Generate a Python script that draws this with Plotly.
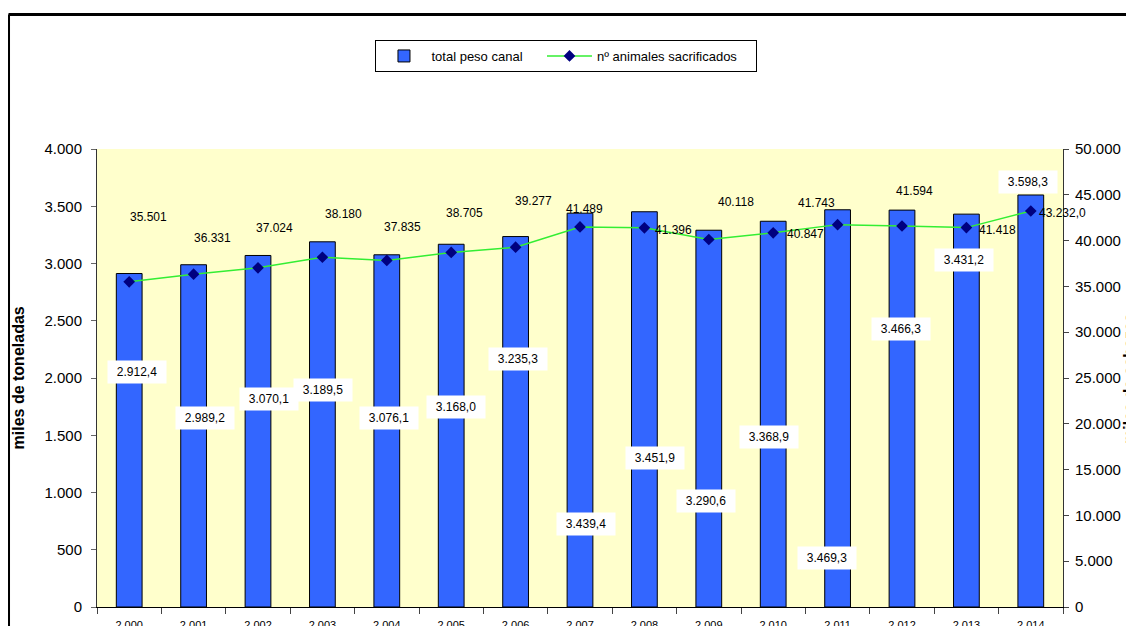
import plotly.graph_objects as go

# ---- data ----
years = list(range(2000, 2015))
peso_canal = [2912.4, 2989.2, 3070.1, 3189.5, 3076.1, 3168.0, 3235.3, 3439.4,
              3451.9, 3290.6, 3368.9, 3469.3, 3466.3, 3431.2, 3598.3]
animales = [35501, 36331, 37024, 38180, 37835, 38705, 39277, 41489,
            41396, 40118, 40847, 41743, 41594, 41418, 43232.0]


def es(v, dec=0):
    s = f"{v:,.{dec}f}"
    return s.replace(",", "#").replace(".", ",").replace("#", ".")


year_labels = [es(y) for y in years]
bar_texts = [es(v, 1) for v in peso_canal]
line_texts = [es(v) for v in animales[:-1]] + [es(animales[-1], 1)]

# label placement (left-axis units / pixel shifts)
bar_label_y = [2052, 1651, 1817, 1895, 1651, 1747, 2166, 725, 1301, 926, 1485, 428, 2428, 3031, 3712]
bar_label_dx = [8, 11, 11, 1, 2, 5, 2, 6, 11, -3, -4, -11, -1, -2, -3]
line_label_y = [3406, 3223, 3310, 3432, 3319, 3441, 3546, 3476, 3293, 3537, 3258, 3528, 3633, 3293, 3441]
line_label_dx = [19, 19, 16, 21, 16, 13, 18, 4, 29, 27, 32, -21, 12, 31, 32]

FONT = "Liberation Sans, Arial, sans-serif"
PAD = "\u00a0" * 4

fig = go.Figure()
fig.add_trace(go.Bar(
    x=year_labels, y=peso_canal, name="total peso canal" + PAD,
    marker=dict(color="#3366FF", line=dict(color="#000000", width=1)),
    width=0.4, yaxis="y",
))
fig.add_trace(go.Scatter(
    x=year_labels, y=animales, name="nº animales sacrificados" + PAD,
    mode="lines+markers", yaxis="y2",
    line=dict(color="#33EE33", width=1.5),
    marker=dict(symbol="diamond", size=9, color="#000080"),
))

annotations = []
for i in range(len(years)):
    annotations.append(dict(
        x=i, y=bar_label_y[i], xref="x", yref="y",
        text=bar_texts[i], showarrow=False, xshift=bar_label_dx[i],
        bgcolor="white", width=56, height=20,
        font=dict(family=FONT, size=12, color="#000000"),
    ))
    annotations.append(dict(
        x=i, y=line_label_y[i], xref="x", yref="y",
        text=line_texts[i], showarrow=False, xshift=line_label_dx[i],
        font=dict(family=FONT, size=12, color="#000000"),
    ))

annotations.append(dict(
    x=-0.0813, y=0.5, xref="paper", yref="paper", text="<b>miles de toneladas</b>",
    textangle=-90, showarrow=False, xanchor="center", yanchor="middle",
    font=dict(family=FONT, size=16, color="#000000"),
))
annotations.append(dict(
    x=1.0683, y=0.5, xref="paper", yref="paper", text="<b>miles de cabezas</b>",
    textangle=-90, showarrow=False, xanchor="center", yanchor="middle",
    font=dict(family=FONT, size=16, color="#000000"),
))

shapes = [
    dict(type="line", xref="paper", yref="paper", x0=-0.0916, x1=1.3, y0=1.2937, y1=1.2937,
         line=dict(color="black", width=3)),
    dict(type="line", xref="paper", yref="paper", x0=-0.0916, x1=-0.0916, y0=1.2937, y1=-0.3,
         line=dict(color="black", width=3)),
]

fig.update_layout(
    template="none",
    width=1126, height=618, autosize=False,
    margin=dict(l=89, r=71, t=141, b=19, autoexpand=False),
    paper_bgcolor="white", plot_bgcolor="#FFFFCC",
    separators=",.",
    font=dict(family=FONT, color="#000000"),
    bargap=0.6,
    showlegend=True,
    legend=dict(
        orientation="h", x=0.486, xanchor="center", y=1.238, yanchor="top",
        bgcolor="white", bordercolor="black", borderwidth=1,
        font=dict(family=FONT, size=13), itemwidth=45,
    ),
    xaxis=dict(
        type="category", range=[-0.5, 14.5], tickson="boundaries",
        ticks="outside", ticklen=6, tickcolor="#444444",
        showline=True, linecolor="#000000", linewidth=1,
        showgrid=False, zeroline=False, automargin=False,
        tickfont=dict(family=FONT, size=11), ticklabelstandoff=8,
    ),
    yaxis=dict(
        range=[0, 4000], dtick=500, tickformat=",",
        ticks="outside", ticklen=5, tickcolor="#666666",
        showline=True, linecolor="#333333", linewidth=1,
        showgrid=False, zeroline=False, automargin=False,
        tickfont=dict(family=FONT, size=15), ticklabelstandoff=6,
    ),
    yaxis2=dict(
        overlaying="y", side="right", range=[0, 50000], dtick=5000, tickformat=",",
        ticks="outside", ticklen=5, tickcolor="#444444",
        showline=True, linecolor="#333333", linewidth=1,
        showgrid=False, zeroline=False, automargin=False,
        tickfont=dict(family=FONT, size=15), ticklabelstandoff=3,
    ),
    annotations=annotations,
    shapes=shapes,
)

fig.write_html("out.html")
